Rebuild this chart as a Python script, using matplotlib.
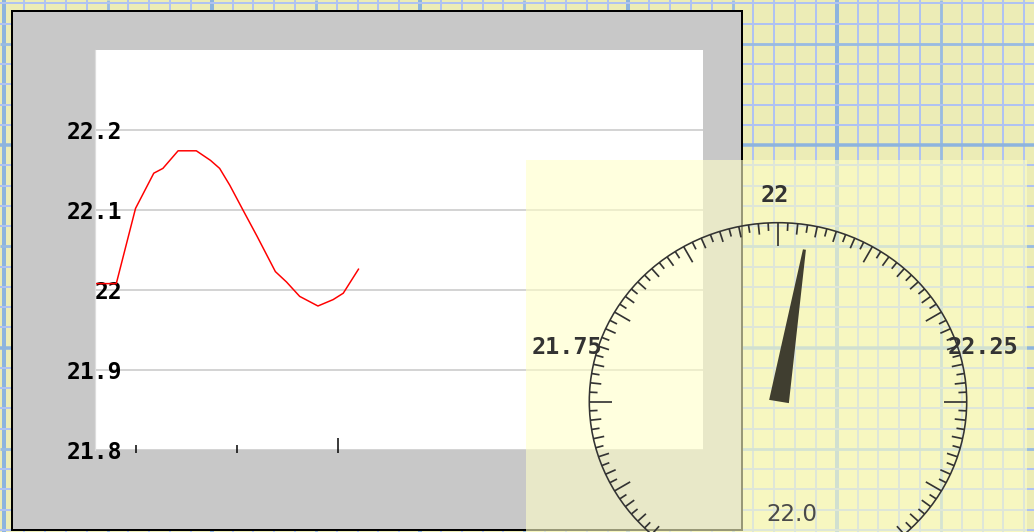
import matplotlib
matplotlib.use("Agg")
import matplotlib.pyplot as plt
import numpy as np
from matplotlib.patches import Rectangle, Polygon, Ellipse
from matplotlib.collections import LineCollection

W, H = 1034, 532
PT = 72 / 100  # points per pixel at dpi 100

# ---------------- data ----------------
t_sec = [0, 2.1, 4.0, 5.8, 6.7, 8.2, 10.0, 11.4, 12.3, 13.3, 14.6, 16.0,
         17.8, 18.9, 20.2, 22.0, 23.5, 24.5, 26.0]
temp = [22.008, 22.008, 22.102, 22.146, 22.152, 22.174, 22.174, 22.162,
        22.152, 22.131, 22.100, 22.067, 22.023, 22.010, 21.992, 21.980,
        21.988, 21.996, 22.026]
y_ticks = [21.8, 21.9, 22.0, 22.1, 22.2]
y_range = [21.8, 22.3]
x_range = [0, 60]
x_minor_ticks = [4.0, 14.0]
x_major_ticks = [24.0]
gauge_labels = [21.75, 22.0, 22.25]
gauge_center_value = 22.0
gauge_quarter = 0.25          # value span per 90 degrees
current = temp[-1]

fig = plt.figure(figsize=(W / 100, H / 100), dpi=100)

# ---------------- background (graph paper + gray panel) ----------------
ax_bg = fig.add_axes([0, 0, 1, 1], zorder=0)
ax_bg.set_xlim(0, W)
ax_bg.set_ylim(H, 0)
ax_bg.axis("off")
ax_bg.add_patch(Rectangle((0, 0), W, H, facecolor="#ECECB6",
                          edgecolor="none", zorder=0))

sx, x_ref = 20.83, 836.7
sy, y_ref = 20.25, 145.0
segs, cols, lws = [], [], []
for k in range(-45, 15):
    x = x_ref + k * sx
    if -5 < x < W + 5:
        segs.append([(x, 0), (x, H)])
        if k % 10 == 0:
            cols.append("#8DB4DE"); lws.append(4 * PT)
        elif k % 5 == 0:
            cols.append("#98BBE2"); lws.append(2.8 * PT)
        else:
            cols.append("#AFC2F2"); lws.append(2 * PT)
for k in range(-10, 25):
    y = y_ref + k * sy
    if -5 < y < H + 5:
        segs.append([(0, y), (W, y)])
        if k % 10 == 0:
            cols.append("#8DB4DE"); lws.append(3.5 * PT)
        elif k % 5 == 0:
            cols.append("#98BBE2"); lws.append(2.8 * PT)
        else:
            cols.append("#AFC2F2"); lws.append(2 * PT)
ax_bg.add_collection(LineCollection(segs, colors=cols, linewidths=lws, zorder=1))

ax_bg.add_patch(Rectangle((12, 11), 730, 519, facecolor="#C8C8C8",
                          edgecolor="black", linewidth=2 * PT, zorder=5))

# ---------------- line chart ----------------
ax = fig.add_axes([95 / W, (H - 450) / H, 608 / W, 400 / H], zorder=1)
ax.set_facecolor("white")
ax.plot(t_sec, temp, color="#FF0000", linewidth=1.5 * PT, zorder=2)
ax.set_xlim(*x_range)
ax.set_ylim(*y_range)
ax.set_yticks(y_ticks)
ax.set_yticklabels([f"{v:g}" for v in y_ticks],
                   fontfamily="DejaVu Sans Mono", fontweight="bold",
                   fontsize=23 * PT, color="black")
ax.tick_params(axis="y", length=0, pad=-27 * PT)
ax.grid(axis="y", color="#D4D4D4", linewidth=2 * PT)
ax.set_axisbelow(True)
ax.xaxis.set_zorder(3)
ax.set_xticks(x_major_ticks)
ax.set_xticks(x_minor_ticks, minor=True)
ax.set_xticklabels([])
ax.tick_params(axis="x", which="major", direction="in", length=15 * PT,
               width=1.5 * PT, color="black")
ax.tick_params(axis="x", which="minor", direction="in", length=8 * PT,
               width=1.5 * PT, color="black")
ax.spines["bottom"].set_position(("outward", 2.5 * PT))
for s in ["top", "right", "bottom"]:
    ax.spines[s].set_visible(False)
ax.spines["left"].set_color("#DDDDDD")
ax.spines["left"].set_linewidth(1.2 * PT)

# ---------------- overlay + gauge ----------------
ax_g = fig.add_axes([0, 0, 1, 1], zorder=2)
ax_g.set_xlim(0, W)
ax_g.set_ylim(H, 0)
ax_g.axis("off")
ax_g.patch.set_alpha(0)

ax_g.add_patch(Rectangle((526, 160), 501, 380, facecolor=(1, 1, 200 / 255),
                         alpha=0.6, edgecolor="none"))

cx, cy = 778.0, 401.5
rx, ry = 188.7, 178.8
ink = "#333333"


def angle(v):
    return np.deg2rad((v - gauge_center_value) / gauge_quarter * 90.0)


def point(th, dr=0.0):
    return (cx + (rx - dr) * np.sin(th), cy - (ry - dr) * np.cos(th))


ax_g.add_patch(Ellipse((cx, cy), 2 * rx, 2 * ry, fill=False,
                       edgecolor=ink, linewidth=1.6 * PT))

tick_step = gauge_quarter / 30
tsegs = []
for i in range(120):
    v = gauge_center_value + i * tick_step
    th = angle(v)
    if i % 30 == 0:
        L = 23
    elif i % 10 == 0:
        L = 18
    elif i % 2 == 0:
        L = 11
    else:
        L = 8
    tsegs.append([point(th), point(th, L)])
ax_g.add_collection(LineCollection(tsegs, colors=ink, linewidths=1.7 * PT))

for v in gauge_labels:
    th = angle(v)
    lx = cx - 3 + 208 * np.sin(th)
    ly = cy - 54 - 151.5 * np.cos(th)
    ax_g.text(lx, ly, f"{v:g}", ha="center", va="center",
              fontfamily="DejaVu Sans Mono", fontweight="bold",
              fontsize=23.5 * PT, color="#333333")

# needle
th = angle(current)
nlen = 154.0
ux, uy = np.sin(th), -np.cos(th)
px_, py_ = np.cos(th), np.sin(th)
tip = (cx + nlen * (rx / ry) * ux, cy + nlen * uy)
bw, tw = 10.0, 1.5
needle = [(cx + 1 - bw * px_, cy - bw * py_), (cx + 1 + bw * px_, cy + bw * py_),
          (tip[0] + tw * px_, tip[1] + tw * py_), (tip[0] - tw * px_, tip[1] - tw * py_)]
ax_g.add_patch(Polygon(needle, closed=True, facecolor="#403E30", edgecolor="none"))

ax_g.text(cx + 14, cy + 113, f"{current:.1f}", ha="center", va="center",
          fontfamily="DejaVu Sans", fontsize=23 * PT, color="#4A4A4A")

fig.savefig("out.png", dpi=100)
